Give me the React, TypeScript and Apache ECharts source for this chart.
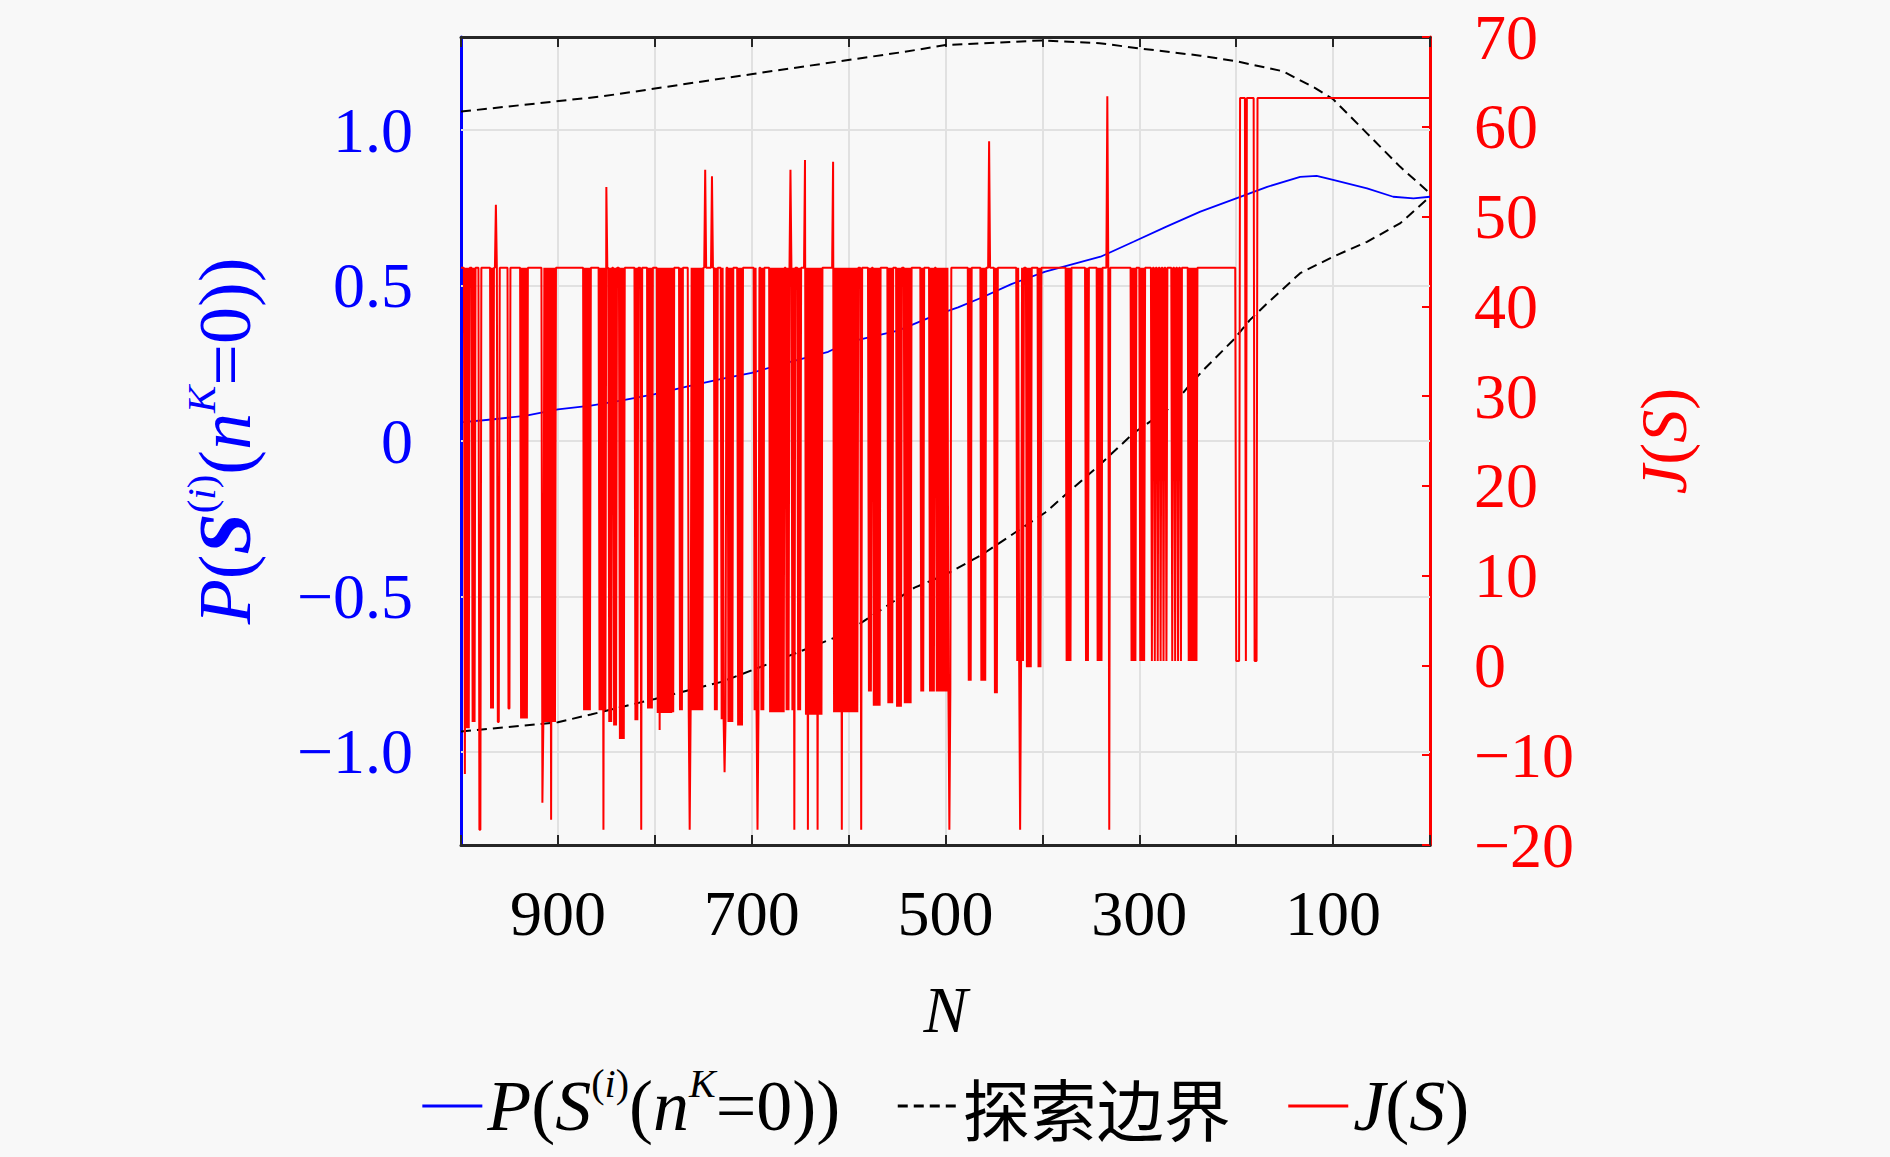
import React, { useEffect, useRef } from "react";
import * as echarts from "echarts";

// ---------- data ----------
const N_TICK_LABELS = [900, 700, 500, 300, 100];
const P_TICKS = [-1, -0.5, 0, 0.5, 1];

// P(S(i)(nK=0)) (blue, left axis)
const P_N = [1000, 966, 934, 900, 866, 835, 800, 766, 731, 700, 666, 621, 600, 549, 511, 487, 463, 432, 397, 340, 306, 272, 237, 200, 168, 134, 117, 100, 65, 38, 17, 0];
const P_VAL = [0.06, 0.07, 0.081, 0.102, 0.114, 0.13, 0.151, 0.176, 0.2, 0.219, 0.25, 0.287, 0.318, 0.355, 0.404, 0.43, 0.461, 0.505, 0.545, 0.593, 0.641, 0.69, 0.738, 0.781, 0.818, 0.85, 0.853, 0.84, 0.813, 0.786, 0.781, 0.786];

// 探索边界 (black dashed, left axis) upper and lower bounds
const UP_N = [1000, 854, 699, 543, 500, 401, 341, 299, 237, 200, 152, 118, 100, 65, 31, 0];
const UP_VAL = [1.06, 1.109, 1.181, 1.252, 1.274, 1.289, 1.28, 1.263, 1.24, 1.222, 1.19, 1.135, 1.1, 0.99, 0.883, 0.797];
const LO_N = [1000, 900, 866, 800, 731, 700, 649, 604, 532, 500, 463, 397, 341, 306, 267, 248, 234, 203, 186, 168, 134, 100, 65, 31, 0];
const LO_VAL = [-0.935, -0.905, -0.88, -0.83, -0.775, -0.738, -0.676, -0.62, -0.472, -0.43, -0.367, -0.23, -0.077, 0.025, 0.11, 0.18, 0.228, 0.325, 0.389, 0.443, 0.54, 0.593, 0.641, 0.7, 0.786];

// J(S) (red, right axis): level held for N >= start, then dips / spikes
const J_LEVEL_FROM_N = [201, 0];
const J_LEVEL = [44.3, 63.2];
// [N start, N end, J, stride]  (stride > 1 = densely spiked band, 1 = held)
const J_DIPS = [
  [996, 996, -12.1, 1], [994, 992, -7.0, 2], [988, 986, -6.3, 2], [981, 980, -18.3, 1],
  [969, 966, -4.8, 2], [962, 961, -6.3, 1], [951, 950, -4.8, 1], [938, 932, -5.9, 2],
  [915, 903, -6.3, 2], [916, 916, -15.3, 1], [907, 907, -17.2, 1], [873, 867, -5.0, 2],
  [857, 851, -5.0, 2], [853, 853, -18.3, 1], [847, 845, -6.3, 2], [842, 840, -6.7, 2],
  [836, 832, -8.2, 2], [820, 817, -6.1, 2], [814, 814, -18.3, 1], [807, 803, -4.8, 2],
  [797, 783, -5.3, 2], [795, 795, -7.2, 1], [781, 781, -5.2, 1], [774, 771, -5.0, 2],
  [765, 751, -5.0, 2], [764, 764, -18.3, 1], [738, 735, -5.0, 2],
  [731, 726, -6.0, 2], [728, 728, -11.9, 1], [724, 720, -6.3, 2], [714, 709, -6.7, 2],
  [697, 692, -5.0, 2], [694, 694, -18.3, 1], [690, 687, -5.0, 2], [681, 666, -5.2, 2],
  [664, 655, -5.0, 2], [656, 656, -18.3, 1], [652, 649, -5.0, 2], [644, 628, -5.5, 2],
  [642, 642, -18.3, 1], [632, 632, -18.3, 1], [615, 590, -5.2, 2], [607, 607, -18.3, 1],
  [587, 587, -18.3, 1],
  [579, 576, -2.9, 2], [574, 568, -4.5, 2], [559, 554, -4.2, 2], [550, 546, -4.6, 2],
  [542, 536, -4.2, 2], [525, 522, -2.9, 2], [516, 512, -2.9, 2], [509, 494, -2.9, 2],
  [496, 496, -18.3, 1], [476, 474, -1.7, 2],
  [463, 458, -1.7, 2], [449, 447, -3.1, 2], [426, 420, 0.5, 2], [423, 423, -18.3, 1],
  [416, 412, -0.2, 2], [404, 401, -0.2, 2], [375, 370, 0.5, 2], [355, 352, 0.5, 2],
  [343, 338, 0.5, 2], [331, 331, -18.3, 1], [308, 304, 0.5, 2], [299, 295, 0.5, 2],
  [287, 272, 0.5, 3], [266, 255, 0.5, 3], [249, 241, 0.5, 2],
  [200, 197, 0.5, 1], [190, 190, 0.5, 1], [181, 179, 0.5, 1],
];
// [N, J] upward spikes
const J_UP_SPIKES = [
  [964, 51.3], [850, 53.3], [748, 55.2], [741, 54.5], [660, 55.2],
  [645, 56.3], [616, 56.1], [455, 58.4], [333, 63.4],
];

// ---------- names ----------
const P_NAME = "P(S(i)(nK=0))";
const B_NAME = "探索边界";
const J_NAME = "J(S)";

const FONT = '"Liberation Serif", "Times New Roman", serif';
const CJK = '"Noto Sans CJK SC", sans-serif';
const BLUE = "#0000ff";
const RED = "#ff0000";
const GRID_C = "#e1e1e1";

function buildJ(): number[][] {
  const vals: number[] = [];
  for (let n = 0; n <= 1000; n++) {
    let v = J_LEVEL[J_LEVEL.length - 1];
    for (let k = 0; k < J_LEVEL_FROM_N.length; k++) {
      if (n >= J_LEVEL_FROM_N[k]) { v = J_LEVEL[k]; break; }
    }
    vals[n] = v;
  }
  const sorted = [...J_DIPS].sort((a, b) => (b[0] - b[1]) - (a[0] - a[1]));
  for (const [s, e, v, st] of sorted) {
    for (let n = s; n >= e; n -= st) vals[n] = v;
  }
  for (const [n, v] of J_UP_SPIKES) vals[n] = v;
  const out: number[][] = [];
  for (let n = 1000; n >= 0; n--) out.push([n, vals[n]]);
  return out;
}

const zip = (a: number[], b: number[]) => a.map((x, i) => [x, b[i]]);

function rich(color: string, fs: number, boldS: boolean, cjkFs = fs) {
  const base = { fontFamily: FONT, fontSize: fs, color, lineHeight: Math.round(fs * 1.2) };
  const sup = { fontFamily: FONT, fontSize: Math.round(fs * 0.56), color, verticalAlign: "top" as const, lineHeight: Math.round(fs * 0.6) };
  return {
    it: { ...base, fontStyle: "italic" },
    rm: { ...base },
    bi: { ...base, fontStyle: "italic", fontWeight: boldS ? "bold" : "normal" },
    sp: { ...sup },
    spi: { ...sup, fontStyle: "italic" },
    cjk: { ...base, fontSize: cjkFs, fontFamily: CJK, color: "#000" },
  };
}

const P_RICH = "{it|P}{rm|(}{bi|S}{sp|(}{spi|i}{sp|)}{rm|(}{it|n}{spi|K}{rm|=0))}";
const P_RICH_LEG = "{it|P}{rm|(}{it|S}{sp|(}{spi|i}{sp|)}{rm|(}{it|n}{spi|K}{rm|=0))}";
const J_RICH = "{it|J}{rm|(}{it|S}{rm|)}";

function minus(v: number, digits: number) {
  if (v === 0) return "0";
  return (v < 0 ? "\u2212" : "") + Math.abs(v).toFixed(digits);
}

export default function App() {
  const ref = useRef<HTMLDivElement>(null);
  useEffect(() => {
    const chart = echarts.init(ref.current!, null, { renderer: "svg" });
    const FS = 64;
    const option: any = {
      animation: false,
      backgroundColor: "#f8f8f8",
      grid: { left: 461, top: 37, width: 969, height: 808, containLabel: false },
      legend: {
        data: [P_NAME, B_NAME, J_NAME],
        left: "center",
        top: 1058,
        itemWidth: 60,
        itemHeight: 20,
        itemGap: 56,
        itemStyle: { opacity: 0 },
        lineStyle: { width: 3 },
        formatter: (name: string) =>
          name === P_NAME ? P_RICH_LEG : name === J_NAME ? J_RICH : "{cjk|探索边界}",
        textStyle: { fontFamily: FONT, fontSize: 72, color: "#000", rich: rich("#000", 72, false, 67) },
      },
      xAxis: [
        {
          type: "value", min: 0, max: 1000, interval: 100, inverse: true, position: "bottom",
          axisLine: { show: true, onZero: false, lineStyle: { color: "#262626", width: 3 } },
          axisTick: { show: true, inside: true, length: 10, lineStyle: { color: "#262626", width: 2 } },
          axisLabel: {
            formatter: (v: number) => (N_TICK_LABELS.includes(v) ? String(v) : ""),
            fontSize: FS, fontFamily: FONT, color: "#000", margin: 36,
          },
          splitLine: { show: true, lineStyle: { color: GRID_C, width: 2 } },
          name: "N", nameLocation: "middle", nameGap: 131,
          nameTextStyle: { fontSize: 66, fontFamily: FONT, fontStyle: "italic", color: "#000" },
        },
        {
          type: "value", min: 0, max: 1000, interval: 100, inverse: true, position: "top",
          axisLine: { show: true, onZero: false, lineStyle: { color: "#262626", width: 3 } },
          axisTick: { show: true, inside: true, length: 10, lineStyle: { color: "#262626", width: 2 } },
          axisLabel: { show: false },
          splitLine: { show: false },
        },
      ],
      yAxis: [
        {
          type: "value", min: -1.3, max: 1.3, position: "left",
          axisLine: { show: true, onZero: false, lineStyle: { color: BLUE, width: 3 } },
          axisTick: { show: true, inside: true, length: 10, customValues: P_TICKS, lineStyle: { color: BLUE, width: 2 } },
          axisLabel: {
            customValues: P_TICKS, formatter: (v: number) => minus(v, 1),
            fontSize: FS, fontFamily: FONT, color: BLUE, margin: 48,
          },
          splitLine: { show: false },
          name: P_RICH, nameLocation: "middle", nameGap: 192,
          nameTextStyle: { color: BLUE, rich: rich(BLUE, 74, true) },
        },
        {
          type: "value", min: -20, max: 70, interval: 10, position: "right",
          axisLine: { show: true, onZero: false, lineStyle: { color: RED, width: 3 } },
          axisTick: { show: true, inside: true, length: 8, lineStyle: { color: RED, width: 2 } },
          axisLabel: {
            formatter: (v: number) => minus(v, 0),
            fontSize: FS, fontFamily: FONT, color: RED, margin: 44,
          },
          splitLine: { show: false },
          name: J_RICH, nameLocation: "middle", nameGap: 194, nameRotate: 90,
          nameTextStyle: { color: RED, rich: rich(RED, 66, false) },
        },
      ],
      series: [
        {
          name: P_NAME, type: "line", xAxisIndex: 0, yAxisIndex: 0,
          data: zip(P_N, P_VAL), symbol: "none", showSymbol: false,
          lineStyle: { color: BLUE, width: 1.8 }, itemStyle: { color: BLUE },
          markLine: {
            silent: true, z: 1, symbol: ["none", "none"], label: { show: false },
            lineStyle: { color: GRID_C, width: 2, type: "solid" },
            emphasis: { disabled: true },
            data: P_TICKS.map((v) => ({ yAxis: v })),
          },
        },
        {
          name: B_NAME, type: "line", xAxisIndex: 0, yAxisIndex: 0,
          data: zip(UP_N, UP_VAL), symbol: "none", showSymbol: false,
          lineStyle: { color: "#000", width: 2, type: [10, 6] }, itemStyle: { color: "#000" },
        },
        {
          name: B_NAME, type: "line", xAxisIndex: 0, yAxisIndex: 0,
          data: zip(LO_N, LO_VAL), symbol: "none", showSymbol: false,
          lineStyle: { color: "#000", width: 2, type: [10, 6] }, itemStyle: { color: "#000" },
        },
        {
          name: J_NAME, type: "line", xAxisIndex: 0, yAxisIndex: 1,
          data: buildJ(), symbol: "none", showSymbol: false,
          lineStyle: { color: RED, width: 2 }, itemStyle: { color: RED },
        },
      ],
    };
    chart.setOption(option);
    return () => chart.dispose();
  }, []);
  return (
    <div
      ref={ref}
      style={{ position: "absolute", left: 0, top: 0, width: 1890, height: 1157 }}
    />
  );
}
